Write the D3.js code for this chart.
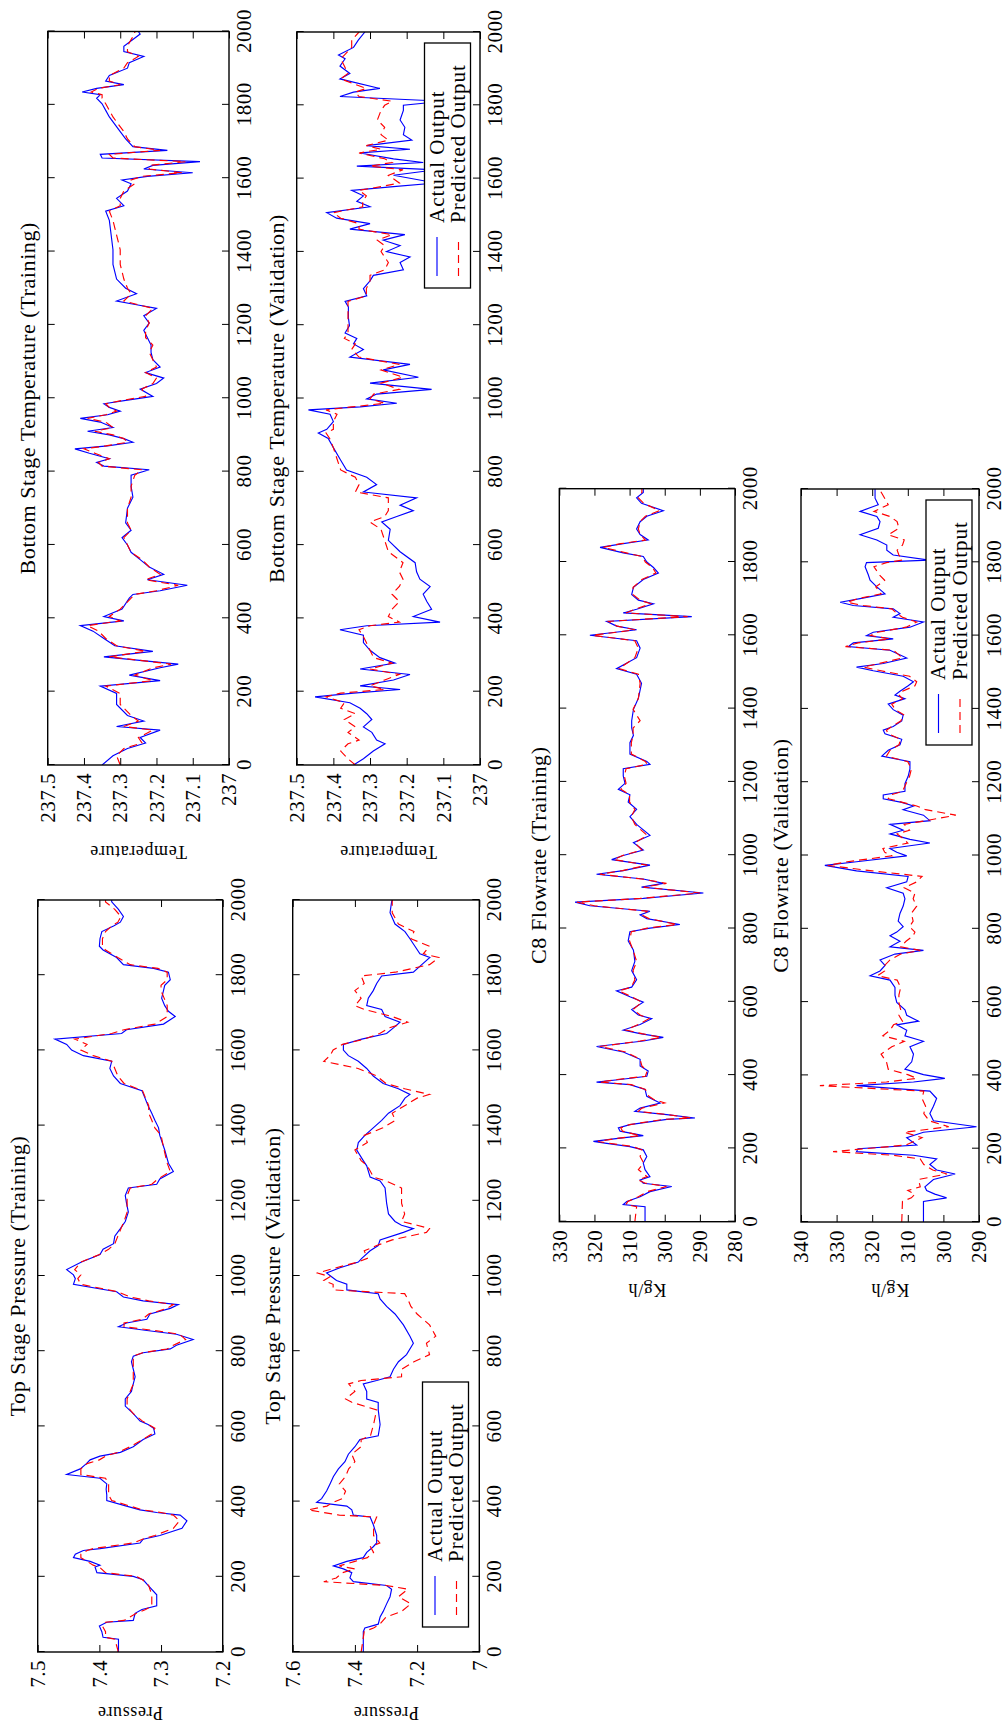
<!DOCTYPE html>
<html><head><meta charset="utf-8">
<script src="https://cdnjs.cloudflare.com/ajax/libs/d3/7.8.5/d3.min.js"></script>
<style>
html,body{margin:0;padding:0;background:#fff;}
svg{display:block;}
text{font-family:"Liberation Serif","Times New Roman",Times,serif;fill:#000;}
</style></head><body>
<svg id="chart" width="1005" height="1731"></svg>
<script>
// ---------------- DATA ----------------
const xTicks = [0,200,400,600,800,1000,1200,1400,1600,1800,2000];
const tempTicks = [237,237.1,237.2,237.3,237.4,237.5];
const pressTrainTicks = [7.2,7.3,7.4,7.5];
const pressValTicks = [7,7.2,7.4,7.6];
const c8TrainTicks = [280,290,300,310,320,330];
const c8ValTicks = [290,300,310,320,330,340];
const titles = ["Top Stage Pressure (Training)","Top Stage Pressure (Validation)","Bottom Stage Temperature (Training)","Bottom Stage Temperature (Validation)","C8 Flowrate (Training)","C8 Flowrate (Validation)"];
const yLabels = ["Pressure","Pressure","Temperature","Temperature","Kg/h","Kg/h"];
const legendLabels = ["Actual Output","Predicted Output"];

const tempTrainX = [0,25,45,60,75,95,105,120,135,165,195,215,230,245,265,275,280,295,310,325,345,365,380,393,405,425,455,465,475,490,505,520,540,560,580,600,620,640,660,700,730,760,790,805,815,825,835,850,862,870,880,890,900,910,920,935,945,955,965,975,985,995,1005,1025,1040,1055,1070,1085,1105,1125,1145,1165,1185,1205,1225,1245,1255,1265,1285,1300,1325,1365,1405,1445,1485,1510,1525,1545,1565,1585,1595,1605,1615,1625,1635,1645,1655,1665,1676,1686,1707,1727,1767,1785,1803,1818,1828,1835,1845,1855,1865,1880,1900,1915,1932,1945,1960,1978,1993,2000];
const tempTrainActual = [237.35,237.32,237.28,237.23,237.245,237.19,237.31,237.235,237.28,237.31,237.31,237.355,237.19,237.275,237.19,237.14,237.19,237.345,237.21,237.315,237.345,237.375,237.41,237.29,237.345,237.295,237.275,237.265,237.19,237.115,237.225,237.18,237.22,237.245,237.27,237.28,237.295,237.27,237.285,237.28,237.265,237.27,237.27,237.22,237.345,237.365,237.33,237.385,237.425,237.335,237.265,237.29,237.33,237.39,237.32,237.355,237.41,237.335,237.30,237.33,237.345,237.28,237.21,237.245,237.20,237.18,237.23,237.19,237.21,237.215,237.215,237.225,237.235,237.22,237.235,237.20,237.255,237.31,237.255,237.285,237.31,237.32,237.32,237.325,237.33,237.34,237.29,237.31,237.28,237.27,237.295,237.225,237.10,237.235,237.21,237.08,237.35,237.355,237.17,237.265,237.285,237.30,237.33,237.34,237.35,237.365,237.355,237.405,237.365,237.29,237.34,237.33,237.28,237.275,237.235,237.29,237.29,237.265,237.245,237.25];
const tempTrainPredicted = [237.30,237.31,237.29,237.24,237.25,237.21,237.29,237.25,237.27,237.30,237.30,237.34,237.21,237.26,237.21,237.16,237.20,237.33,237.23,237.31,237.34,237.36,237.39,237.30,237.33,237.30,237.27,237.26,237.20,237.14,237.23,237.19,237.22,237.24,237.27,237.28,237.29,237.27,237.28,237.28,237.27,237.27,237.26,237.24,237.35,237.36,237.33,237.37,237.40,237.34,237.28,237.29,237.32,237.37,237.32,237.34,237.39,237.34,237.31,237.33,237.34,237.29,237.23,237.24,237.21,237.20,237.23,237.20,237.21,237.22,237.21,237.23,237.23,237.22,237.23,237.21,237.25,237.29,237.27,237.28,237.29,237.30,237.30,237.31,237.32,237.33,237.30,237.30,237.29,237.26,237.27,237.24,237.13,237.22,237.22,237.12,237.32,237.33,237.19,237.26,237.28,237.29,237.32,237.33,237.34,237.35,237.35,237.38,237.36,237.30,237.33,237.33,237.29,237.28,237.25,237.28,237.28,237.27,237.26,237.26];

const tempValX = [0,17,38,58,68,89,104,124,140,155,170,186,196,206,216,232,247,262,278,293,313,334,354,369,380,390,405,425,446,466,487,507,527,552,582,613,643,663,678,694,709,729,745,765,785,805,835,866,891,906,916,937,957,969,977,987,999,1012,1025,1042,1058,1078,1093,1113,1134,1149,1164,1179,1199,1220,1250,1265,1280,1300,1321,1336,1351,1371,1386,1401,1417,1432,1447,1462,1477,1492,1507,1523,1538,1553,1568,1578,1588,1609,1624,1634,1644,1654,1670,1680,1690,1705,1720,1740,1760,1786,1800,1811,1824,1836,1846,1872,1887,1907,1927,1937,1958,1978,2000];
const tempValActual = [237.345,237.318,237.291,237.259,237.282,237.295,237.318,237.295,237.309,237.327,237.355,237.45,237.345,237.218,237.327,237.236,237.191,237.327,237.232,237.273,237.30,237.318,237.318,237.382,237.309,237.109,237.182,237.132,237.145,237.155,237.136,237.164,237.173,237.177,237.218,237.25,237.245,237.268,237.227,237.182,237.218,237.173,237.318,237.282,237.309,237.364,237.382,237.40,237.414,237.441,237.418,237.40,237.409,237.468,237.327,237.227,237.309,237.282,237.132,237.30,237.168,237.264,237.191,237.355,237.318,237.345,237.336,237.368,237.356,237.359,237.359,237.368,237.309,237.318,237.30,237.291,237.209,237.218,237.191,237.255,237.218,237.264,237.205,237.355,237.30,237.391,237.418,237.30,237.336,237.318,237.35,237.236,237.12,237.236,237.12,237.336,237.155,237.236,237.327,237.191,237.309,237.186,237.209,237.205,237.218,237.209,237.209,237.10,237.382,237.345,237.273,237.382,237.355,237.382,237.368,237.386,237.345,237.332,237.314];
const tempValPredicted = [237.34,237.36,237.38,237.36,237.33,237.36,237.34,237.37,237.34,237.38,237.37,237.42,237.38,237.26,237.30,237.26,237.22,237.30,237.24,237.29,237.30,237.31,237.32,237.33,237.30,237.22,237.25,237.24,237.22,237.24,237.22,237.21,237.22,237.21,237.25,237.26,237.27,237.30,237.26,237.25,237.25,237.25,237.34,237.33,237.34,237.38,237.39,237.40,237.41,237.42,237.40,237.40,237.39,237.42,237.35,237.26,237.30,237.29,237.22,237.27,237.21,237.27,237.22,237.33,237.35,237.34,237.37,237.36,237.36,237.36,237.36,237.36,237.31,237.31,237.30,237.30,237.26,237.25,237.26,237.27,237.26,237.28,237.24,237.33,237.33,237.38,237.40,237.32,237.32,237.31,237.33,237.27,237.22,237.25,237.21,237.30,237.24,237.26,237.33,237.27,237.31,237.25,237.27,237.26,237.28,237.27,237.26,237.24,237.33,237.34,237.31,237.38,237.36,237.37,237.38,237.37,237.35,237.35,237.33];

const pressTrainX = [0,5,34,39,54,69,79,84,103,113,123,152,177,192,201,211,226,231,241,251,260,270,275,290,300,310,329,349,364,371,378,388,403,418,433,447,462,472,487,501,511,521,531,546,565,580,595,605,614,634,654,673,693,713,732,752,772,787,796,806,816,831,845,855,865,875,885,899,914,924,934,944,958,978,993,1003,1017,1037,1057,1071,1086,1106,1126,1145,1170,1194,1214,1234,1244,1258,1278,1300,1335,1374,1394,1414,1433,1453,1473,1493,1512,1532,1552,1571,1586,1601,1616,1630,1645,1655,1670,1690,1704,1719,1739,1759,1773,1788,1808,1818,1828,1847,1867,1877,1897,1916,1931,1941,1956,1975,1995,2000];
const pressTrainActual = [7.369,7.369,7.369,7.394,7.396,7.40,7.388,7.345,7.342,7.331,7.307,7.307,7.321,7.329,7.345,7.404,7.407,7.399,7.415,7.442,7.439,7.426,7.399,7.334,7.329,7.302,7.266,7.258,7.269,7.307,7.334,7.356,7.388,7.388,7.389,7.388,7.399,7.453,7.431,7.421,7.415,7.399,7.366,7.345,7.329,7.310,7.312,7.321,7.334,7.345,7.358,7.358,7.348,7.345,7.342,7.345,7.348,7.345,7.329,7.285,7.275,7.248,7.275,7.323,7.369,7.356,7.323,7.318,7.285,7.272,7.329,7.361,7.372,7.442,7.439,7.442,7.453,7.429,7.399,7.394,7.377,7.375,7.366,7.358,7.353,7.356,7.358,7.353,7.307,7.302,7.28,7.288,7.294,7.302,7.304,7.31,7.315,7.321,7.326,7.331,7.366,7.377,7.383,7.38,7.426,7.445,7.453,7.472,7.364,7.356,7.296,7.277,7.288,7.294,7.299,7.296,7.294,7.285,7.288,7.312,7.361,7.372,7.394,7.40,7.399,7.396,7.377,7.366,7.361,7.369,7.38,7.38];
const pressTrainPredicted = [7.37,7.37,7.375,7.39,7.39,7.395,7.39,7.36,7.34,7.325,7.315,7.315,7.32,7.33,7.34,7.39,7.40,7.41,7.42,7.43,7.43,7.42,7.41,7.345,7.33,7.31,7.28,7.27,7.28,7.30,7.33,7.35,7.38,7.385,7.385,7.385,7.39,7.43,7.43,7.42,7.40,7.39,7.37,7.35,7.33,7.315,7.31,7.32,7.33,7.345,7.355,7.355,7.35,7.345,7.345,7.345,7.345,7.345,7.33,7.29,7.28,7.26,7.27,7.31,7.36,7.36,7.33,7.32,7.29,7.28,7.32,7.35,7.37,7.43,7.435,7.43,7.44,7.43,7.40,7.385,7.375,7.37,7.365,7.36,7.355,7.355,7.355,7.35,7.315,7.305,7.285,7.29,7.295,7.30,7.31,7.315,7.32,7.32,7.325,7.33,7.36,7.37,7.375,7.38,7.41,7.43,7.42,7.44,7.38,7.36,7.31,7.29,7.29,7.29,7.295,7.30,7.30,7.29,7.29,7.305,7.35,7.37,7.39,7.395,7.395,7.39,7.38,7.37,7.365,7.375,7.39,7.39];

const pressValX = [0,54,64,74,93,108,128,147,167,177,187,197,211,221,229,241,251,265,280,290,310,339,359,364,378,388,398,408,428,447,467,487,506,526,546,565,575,605,644,664,673,693,713,722,732,752,772,791,821,840,870,899,919,939,953,963,978,988,998,1008,1022,1037,1047,1067,1081,1096,1116,1126,1135,1145,1165,1194,1234,1253,1263,1293,1307,1335,1355,1374,1394,1414,1433,1453,1473,1483,1498,1512,1532,1552,1571,1586,1601,1616,1630,1645,1660,1675,1690,1709,1719,1739,1759,1778,1798,1808,1828,1847,1857,1877,1897,1916,1936,1966,1995,2000];
const pressValActual = [7.373,7.373,7.368,7.325,7.319,7.309,7.298,7.287,7.282,7.298,7.405,7.416,7.41,7.437,7.469,7.426,7.373,7.362,7.341,7.33,7.33,7.341,7.351,7.405,7.41,7.426,7.523,7.507,7.491,7.48,7.469,7.453,7.432,7.421,7.40,7.384,7.325,7.319,7.325,7.325,7.362,7.362,7.373,7.33,7.287,7.276,7.26,7.234,7.212,7.223,7.244,7.271,7.298,7.319,7.325,7.426,7.426,7.459,7.475,7.491,7.448,7.389,7.378,7.351,7.325,7.319,7.244,7.212,7.25,7.271,7.292,7.298,7.303,7.319,7.351,7.362,7.373,7.394,7.389,7.368,7.341,7.314,7.292,7.255,7.239,7.223,7.26,7.309,7.341,7.362,7.389,7.421,7.437,7.437,7.378,7.298,7.276,7.255,7.303,7.314,7.362,7.357,7.341,7.33,7.314,7.212,7.185,7.159,7.191,7.207,7.223,7.239,7.271,7.287,7.282,7.28];
const pressValPredicted = [7.38,7.37,7.34,7.32,7.30,7.25,7.22,7.26,7.23,7.30,7.50,7.46,7.44,7.40,7.45,7.40,7.36,7.34,7.35,7.32,7.34,7.34,7.33,7.45,7.55,7.49,7.47,7.44,7.43,7.45,7.43,7.42,7.40,7.41,7.38,7.38,7.35,7.34,7.33,7.41,7.43,7.40,7.42,7.38,7.25,7.25,7.21,7.16,7.17,7.14,7.16,7.20,7.22,7.23,7.24,7.47,7.47,7.50,7.48,7.52,7.46,7.39,7.36,7.37,7.33,7.28,7.17,7.16,7.20,7.25,7.24,7.25,7.25,7.30,7.34,7.36,7.38,7.40,7.36,7.37,7.31,7.27,7.28,7.24,7.20,7.16,7.24,7.30,7.33,7.39,7.50,7.48,7.47,7.44,7.37,7.32,7.29,7.23,7.28,7.37,7.40,7.38,7.40,7.37,7.38,7.27,7.16,7.13,7.18,7.16,7.22,7.21,7.26,7.28,7.28,7.28];

const c8TrainX = [0,41,47,55,68,82,96,105,114,123,142,160,178,196,205,215,219,228,235,247,256,265,279,283,292,301,310,324,333,342,361,374,381,388,397,411,425,443,463,478,493,503,513,523,538,554,564,579,599,614,630,640,660,685,710,741,766,791,801,811,827,837,847,862,872,882,897,913,923,935,948,958,973,988,999,1014,1034,1054,1084,1105,1125,1145,1165,1180,1196,1216,1236,1248,1256,1276,1307,1327,1347,1367,1398,1428,1469,1494,1509,1539,1565,1585,1600,1615,1625,1638,1651,1661,1671,1686,1696,1711,1731,1752,1770,1785,1800,1815,1825,1840,1850,1860,1875,1890,1910,1925,1940,1960,1975,1990,2000];
const c8TrainActual = [305.6,305.6,311.8,310.8,307.0,304.2,298.0,306.1,307.0,304.2,305.6,306.1,305.1,306.1,309.9,317.5,320.3,312.7,306.1,312.7,313.2,309.9,299.4,291.4,299.4,308.5,307.0,301.3,303.2,305.1,305.6,309.9,319.4,312.7,305.1,304.7,307.0,307.0,311.8,319.4,306.1,300.4,307.0,311.8,307.0,303.7,307.5,309.4,306.1,309.9,313.7,309.4,308.0,309.4,308.5,308.9,310.4,309.9,304.2,295.7,305.1,307.0,304.2,321.3,325.5,306.1,289.0,306.6,300.4,306.1,319.4,311.8,304.2,315.1,311.8,306.1,308.9,304.2,308.0,309.9,308.0,310.4,309.9,313.2,311.3,311.8,311.8,304.2,305.1,309.9,309.9,308.9,309.4,309.4,308.9,307.5,306.6,308.0,313.7,308.0,307.0,308.0,321.3,308.0,313.7,316.5,292.3,311.8,308.0,303.2,307.5,309.4,308.9,306.1,301.8,303.2,305.1,306.1,311.8,318.4,311.8,304.7,307.0,308.0,307.0,305.1,300.4,306.6,308.0,306.1,306.1];
const c8TrainPredicted = [308.5,308.0,311.0,310.5,307.5,305.0,299.5,305.5,307.5,305.0,307.5,306.0,307.0,306.5,309.0,316.5,319.0,313.0,307.0,312.0,312.5,310.0,300.5,292.5,299.0,307.5,306.5,300.0,303.0,304.5,305.5,309.5,318.5,313.5,305.5,305.0,306.5,307.0,311.0,318.5,307.0,301.0,306.5,311.0,307.5,304.5,307.0,309.0,306.5,309.5,313.0,309.5,308.5,309.0,308.0,309.0,310.0,309.5,305.0,296.5,304.5,306.5,305.0,320.0,325.0,307.0,290.0,306.0,299.5,306.5,318.5,312.0,305.0,314.5,312.0,306.5,308.5,305.0,308.5,309.5,308.5,310.0,310.0,312.5,311.0,311.5,311.0,305.0,305.5,309.5,309.5,309.0,309.0,307.0,309.0,307.5,307.0,307.5,313.0,308.5,307.5,308.5,320.5,308.5,313.5,316.0,293.5,311.0,308.5,304.0,307.0,309.0,309.0,306.5,302.5,303.5,305.5,306.5,311.0,317.5,312.5,305.5,307.0,307.5,307.0,305.5,301.5,306.0,307.5,306.5,306.5];

const c8ValX = [0,56,66,76,86,96,116,131,142,157,172,182,192,200,210,230,245,260,276,296,316,337,357,372,382,392,402,417,437,458,478,493,508,523,538,548,564,579,599,619,640,660,672,685,700,715,731,741,751,766,781,791,806,821,842,862,882,897,912,928,943,958,973,983,999,1009,1019,1034,1044,1059,1069,1085,1095,1110,1125,1135,1145,1155,1165,1175,1196,1216,1236,1256,1271,1287,1302,1317,1332,1342,1352,1367,1383,1398,1413,1428,1438,1448,1463,1474,1489,1504,1514,1524,1539,1560,1570,1580,1591,1600,1609,1623,1637,1650,1660,1673,1682,1691,1701,1714,1733,1751,1766,1788,1799,1806,1820,1833,1847,1861,1875,1893,1911,1925,1939,1957,1975,2000];
const c8ValActual = [305.6,305.6,299.1,302.4,304.7,305.2,302.8,296.7,301.9,303.8,301.9,308.4,324.4,324.0,307.5,310.3,305.6,290.7,302.8,303.8,302.8,301.9,303.8,324.4,308.4,299.6,305.6,310.8,308.9,308.4,309.4,305.6,310.8,310.3,313.1,307.0,310.3,310.8,313.1,313.6,313.6,315.0,320.6,317.8,316.4,317.8,313.6,305.6,315.0,312.2,315.0,313.1,311.3,312.7,312.2,311.3,310.8,311.3,315.9,310.3,309.9,324.4,333.3,324.4,310.3,313.1,315.0,303.8,309.4,315.0,311.3,315.0,303.8,305.6,311.3,308.4,311.7,316.9,316.9,310.8,310.8,309.9,309.4,309.4,317.3,315.5,312.2,311.7,316.4,316.9,314.1,311.7,311.3,314.1,315.5,310.8,313.6,312.2,309.9,308.4,311.3,319.7,324.4,316.9,310.3,315.0,326.7,325.3,314.1,321.6,319.7,309.4,305.6,314.1,312.2,314.1,325.3,329.0,323.4,316.4,318.7,320.6,321.1,322.0,321.6,304.0,314.1,315.9,315.9,318.7,323.4,318.3,317.8,318.7,323.4,318.3,319.2,319.2];
const c8ValPredicted = [311.7,311.5,309.0,308.0,310.0,306.5,307.0,299.0,303.0,305.5,306.5,314.0,331.0,322.0,310.5,306.0,311.0,298.5,304.0,305.5,305.0,306.0,305.5,334.7,316.0,307.5,310.0,315.5,316.0,317.5,314.5,311.0,317.0,315.0,314.0,311.5,312.5,312.0,312.5,312.5,312.0,313.0,318.5,316.5,316.5,315.0,312.0,306.5,312.0,310.5,308.5,308.0,309.5,308.5,309.0,307.5,308.5,308.0,311.0,307.5,306.0,320.0,332.5,327.0,314.5,316.5,317.0,310.0,311.0,313.0,309.5,311.0,305.0,296.5,305.0,307.5,311.5,315.5,315.0,311.5,310.5,309.5,309.0,310.0,316.0,315.0,312.5,312.0,315.5,316.0,314.5,312.0,311.0,313.5,314.5,311.5,312.5,311.5,308.0,307.5,309.5,317.5,322.5,318.0,311.5,314.0,327.5,324.0,315.0,320.5,318.5,310.5,307.5,311.5,313.0,314.5,322.5,327.0,324.0,317.5,319.0,316.5,318.0,319.5,316.0,311.5,312.5,313.0,311.5,311.0,315.5,312.5,313.0,315.0,319.5,315.5,316.5,318.0];

// ---------------- LAYOUT (figure drawn landscape, then turned 90° CCW) ----------------
const H = 1731;
const svg = d3.select("#chart");
const root = svg.append("g").attr("transform", `translate(0,${H}) rotate(-90)`);

const panels = [
  {t:0, x:pressTrainX, a:pressTrainActual, p:pressTrainPredicted, dom:[7.2,7.5], ticks:pressTrainTicks, u0:79, u1:831, v0:37.7, v1:222.7, lab:54.7},
  {t:1, x:pressValX, a:pressValActual, p:pressValPredicted, dom:[7,7.6], ticks:pressValTicks, u0:79, u1:831, v0:292.7, v1:479.3, lab:54.7, leg:[104,422.5]},
  {t:2, x:tempTrainX, a:tempTrainActual, p:tempTrainPredicted, dom:[237,237.5], ticks:tempTicks, u0:966, u1:1699.5, v0:47.7, v1:229, lab:80.7},
  {t:3, x:tempValX, a:tempValActual, p:tempValPredicted, dom:[237,237.5], ticks:tempTicks, u0:966, u1:1699, v0:296.7, v1:480, lab:80.7, leg:[1443,424.5]},
  {t:4, x:c8TrainX, a:c8TrainActual, p:c8TrainPredicted, dom:[280,330], ticks:c8TrainTicks, u0:509.3, u1:1242.3, v0:559.3, v1:735, lab:62.3},
  {t:5, x:c8ValX, a:c8ValActual, p:c8ValPredicted, dom:[290,340], ticks:c8ValTicks, u0:509, u1:1242, v0:801, v1:979, lab:62.3, leg:[986,926]}
];

const BLUE = "#0000ff", RED = "#ff0000", DASH = "8,5";

panels.forEach((P, i) => {
  const g = root.append("g");
  const xs = d3.scaleLinear().domain([0, 2000]).range([P.u0, P.u1]);
  const ys = d3.scaleLinear().domain(P.dom).range([P.v1, P.v0]);
  const cid = "clip" + i;
  root.append("clipPath").attr("id", cid).append("rect")
    .attr("x", P.u0).attr("y", P.v0).attr("width", P.u1 - P.u0).attr("height", P.v1 - P.v0);

  const n = Math.min(P.x.length, P.a.length, P.p.length);
  const actual = d3.range(n).map(k => [P.x[k], P.a[k]]);
  const pred = d3.range(n).map(k => [P.x[k], P.p[k]]);
  const line = d3.line().x(d => xs(d[0])).y(d => ys(d[1]));

  const lines = g.append("g").attr("clip-path", `url(#${cid})`);
  lines.append("path").datum(actual).attr("d", line)
    .attr("fill", "none").attr("stroke", BLUE).attr("stroke-width", 1.15);
  lines.append("path").datum(pred).attr("d", line)
    .attr("fill", "none").attr("stroke", RED).attr("stroke-width", 1.15).attr("stroke-dasharray", DASH);

  const fmt = d => String(d);
  g.append("g").attr("transform", `translate(0,${P.v1})`)
    .call(d3.axisBottom(xs).tickValues(xTicks).tickSizeInner(-7).tickSizeOuter(0).tickPadding(7).tickFormat(fmt));
  g.append("g").attr("transform", `translate(0,${P.v0})`)
    .call(d3.axisTop(xs).tickValues(xTicks).tickSizeInner(-7).tickSizeOuter(0).tickFormat(""));
  g.append("g").attr("transform", `translate(${P.u0},0)`)
    .call(d3.axisLeft(ys).tickValues(P.ticks).tickSizeInner(-7).tickSizeOuter(0).tickPadding(8).tickFormat(fmt));
  g.append("g").attr("transform", `translate(${P.u1},0)`)
    .call(d3.axisRight(ys).tickValues(P.ticks).tickSizeInner(-7).tickSizeOuter(0).tickFormat(""));
  g.selectAll(".domain").remove();
  g.selectAll(".tick line").attr("stroke", "#000").attr("stroke-width", 1);
  g.selectAll(".tick text").style("font-size", "21px").style("letter-spacing", "0.5px");

  g.append("rect").attr("x", P.u0).attr("y", P.v0).attr("width", P.u1 - P.u0).attr("height", P.v1 - P.v0)
    .attr("fill", "none").attr("stroke", "#000").attr("stroke-width", 1.4);

  g.append("text").attr("x", (P.u0 + P.u1) / 2).attr("y", P.v0 - 13)
    .attr("text-anchor", "middle").style("font-size", "22px").style("letter-spacing", "0.6px")
    .text(titles[P.t]);

  g.append("text").attr("transform", `translate(${P.u0 - P.lab},${(P.v0 + P.v1) / 2}) rotate(-90)`)
    .attr("text-anchor", "middle").style("font-size", "18px").style("letter-spacing", "0.6px")
    .text(yLabels[P.t]);

  if (P.leg) {
    const [lu, lv] = P.leg;
    const lg = root.append("g");
    lg.append("rect").attr("x", lu).attr("y", lv).attr("width", 245).attr("height", 46)
      .attr("fill", "#fff").attr("stroke", "#000").attr("stroke-width", 1.3);
    const rows = [{c: BLUE, d: null, dy: 12.5}, {c: RED, d: DASH, dy: 34}];
    rows.forEach((r, k) => {
      const ln = lg.append("line").attr("x1", lu + 12).attr("x2", lu + 51)
        .attr("y1", lv + r.dy).attr("y2", lv + r.dy).attr("stroke", r.c).attr("stroke-width", 1.15);
      if (r.d) ln.attr("stroke-dasharray", r.d);
      lg.append("text").attr("x", lu + 65).attr("y", lv + r.dy + 6.5)
        .style("font-size", "21px").style("letter-spacing", "1px").text(legendLabels[k]);
    });
  }
});
</script>
</body></html>
